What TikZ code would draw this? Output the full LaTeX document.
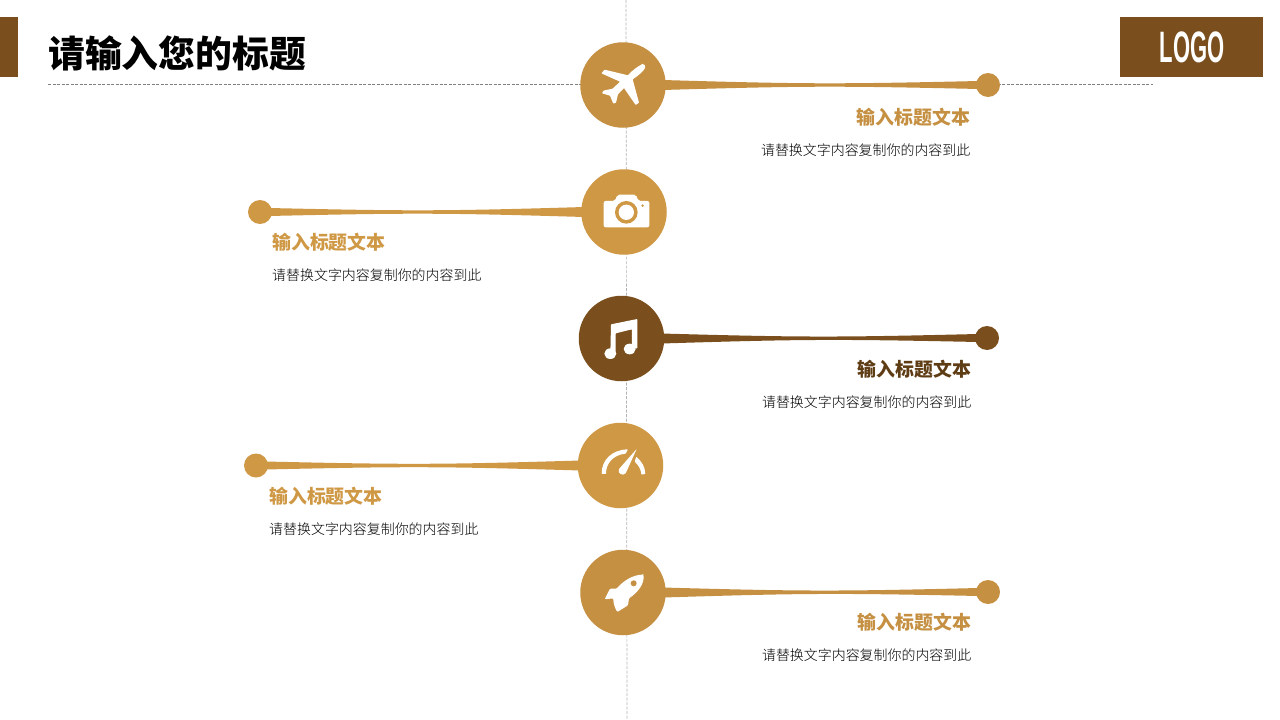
\documentclass[tikz,border=0pt]{standalone}
\usepackage{fontspec}
\setmainfont{Noto Sans CJK SC}
\newfontfamily\logofont{Liberation Sans}
\newfontfamily\titlefont{Noto Sans CJK SC Black}
\newfontfamily\blurbfont{Noto Sans CJK SC Light}
\usetikzlibrary{calc}
\definecolor{gold}{HTML}{C59042}
\definecolor{sand}{HTML}{CF9845}
\definecolor{umber}{HTML}{7A4F1D}
\definecolor{bark}{HTML}{5E3C14}
\tikzset{
  hub/.style = {circle, minimum size = 85.5pt, inner sep = 0pt},
  tip/.style = {circle, minimum size = 24pt, inner sep = 0pt},
  heading/.style = {inner sep = 0pt, font = \fontsize{18.9}{22}\selectfont\bfseries},
  blurb/.style = {inner sep = 0pt, text = black, font = \fontsize{13.95}{18}\blurbfont},
  guide/.style = {line width = 0.7pt, dash pattern = on 3pt off 1.5pt},
  icon/.style = {fill = white, rounded corners = 0.6pt}
}
\newcommand{\stalk}[3]{
  \coordinate (s) at ($(#1)!-3pt!(#2)$);
  \coordinate (e) at ($(#2)!-3pt!(#1)$);
  \fill [#3] ($(s)+(0,-5)$) .. controls ($(s)!.45!(e)+(0,-.8)$) and ($(s)!.55!(e)+(0,-.8)$) .. ($(e)+(0,-4)$)
    -- ($(e)+(0,4)$) .. controls ($(s)!.55!(e)+(0,.8)$) and ($(s)!.45!(e)+(0,.8)$) .. ($(s)+(0,5)$) -- cycle;
}
\begin{document}
\begin{tikzpicture}[x = 1pt, y = -1pt]
\useasboundingbox (0,0) rectangle (1280,720);
\coordinate (axistop) at (626,0);
\coordinate (axisend) at (627,720);
\coordinate (rulestart) at (48,84);
\coordinate (ruleend) at (1153,84);
\draw [guide, color = black!30] (axistop) -- (axisend);
\draw [guide, color = black!50] (rulestart) -- (ruleend);
\fill [color = umber] (0,17) rectangle (18,77);
\draw (1120,17) node[fill = umber, minimum width = 143pt, minimum height = 60pt, inner sep = 0pt, anchor = north west] (logobox) {};
\draw (1192,47) node[text = white, inner sep = 0pt, xscale = 0.5, font = \fontsize{44}{44}\logofont\bfseries] (logo) {LOGO};
\draw (48,53) node[anchor = west, inner sep = 0pt, font = \fontsize{36.8}{40}\titlefont] (title) {请输入您的标题};
\draw (623,85) node[hub, fill = gold] (plane) {};
\draw (624,212) node[hub, fill = sand] (camera) {};
\draw (621.5,338.5) node[hub, fill = umber] (music) {};
\draw (620.5,465.5) node[hub, fill = sand] (gauge) {};
\draw (623,592.5) node[hub, fill = gold] (rocket) {};
\draw (988,85) node[tip, fill = gold] (planetip) {};
\draw (260,212) node[tip, fill = sand] (cameratip) {};
\draw (987,338) node[tip, fill = umber] (musictip) {};
\draw (256,465.5) node[tip, fill = sand] (gaugetip) {};
\draw (988,592) node[tip, fill = gold] (rockettip) {};
\stalk{plane.east}{planetip.west}{gold}
\stalk{camera.west}{cameratip.east}{sand}
\stalk{music.east}{musictip.west}{umber}
\stalk{gauge.west}{gaugetip.east}{sand}
\stalk{rocket.east}{rockettip.west}{gold}
\draw (970.5,117) node[heading, anchor = east, text = gold] (planehead) {输入标题文本};
\draw (970.5,150) node[blurb, anchor = east] (planetext) {请替换文字内容复制你的内容到此};
\draw (272,242) node[heading, anchor = west, text = sand] (camerahead) {输入标题文本};
\draw (272,275) node[blurb, anchor = west] (cameratext) {请替换文字内容复制你的内容到此};
\draw (971.5,369) node[heading, anchor = east, text = bark] (musichead) {输入标题文本};
\draw (971.5,402) node[blurb, anchor = east] (musictext) {请替换文字内容复制你的内容到此};
\draw (269,496) node[heading, anchor = west, text = sand] (gaugehead) {输入标题文本};
\draw (269,529) node[blurb, anchor = west] (gaugetext) {请替换文字内容复制你的内容到此};
\draw (971.5,622) node[heading, anchor = east, text = gold] (rockethead) {输入标题文本};
\draw (971.5,655) node[blurb, anchor = east] (rockettext) {请替换文字内容复制你的内容到此};
% icons, traced at 3x
\begin{scope}[shift = {(560,0)}, x = 0.3333pt, y = -0.3333pt]
\fill [icon] (246,193) .. controls (252,191) and (258,197) .. (255,204) .. controls (250,214) and (236,226) .. (218,238) -- (237,308) -- (227,315) -- (192,264)
  -- (174,283) -- (168,308) -- (160,311) -- (150,287) -- (126,280) -- (130,272) -- (158,266) -- (180,245)
  -- (124,220) -- (134,209) -- (204,226) .. controls (216,212) and (232,200) .. cycle;
\fill [icon, rounded corners = 2pt] (131,603) -- (165,603) -- (172,584) -- (228,584) -- (235,603) -- (268,603) -- (268,682) -- (131,682) -- cycle;
\fill [color = sand] (199,637) circle (34);
\fill [color = white] (199,637) circle (23);
\fill [color = sand] (248,617) circle (4);
\end{scope}
\begin{scope}[shift = {(560,280)}, x = 0.3333pt, y = -0.3333pt]
\fill [icon] (153,133) -- (232,117) -- (232,205) -- (216,205) -- (216,148) -- (167,160) -- (167,222) -- (151,222) -- cycle;
\fill [color = white] (151,221) ellipse (18 and 16);
\fill [color = white] (209,207) ellipse (18 and 16);
\fill [icon] (125,582) .. controls (125,540) and (155,510) .. (204,508) -- (197,521)
  .. controls (160,525) and (138,550) .. (138,582) -- cycle;
\fill [icon] (229,530) .. controls (245,545) and (255,560) .. (256,582) -- (244,584) .. controls (243,568) and (235,555) .. (224,545) -- cycle;
\fill [icon] (230,507) -- (198,578) .. controls (190,590) and (170,580) .. (178,566) -- cycle;
\end{scope}
\begin{scope}[shift = {(560,530)}, x = 0.3333pt, y = -0.3333pt]
\fill [icon, rounded corners = 1pt] (250,134) .. controls (222,134) and (192,150) .. (170,176) -- (150,176) -- (134,208) -- (160,205)
  .. controls (160,220) and (165,235) .. (172,246) -- (204,226) -- (207,205) .. controls (235,186) and (254,160) .. cycle;
\fill [color = gold] (221,160) circle (9);
\end{scope}
\end{tikzpicture}
\end{document}
